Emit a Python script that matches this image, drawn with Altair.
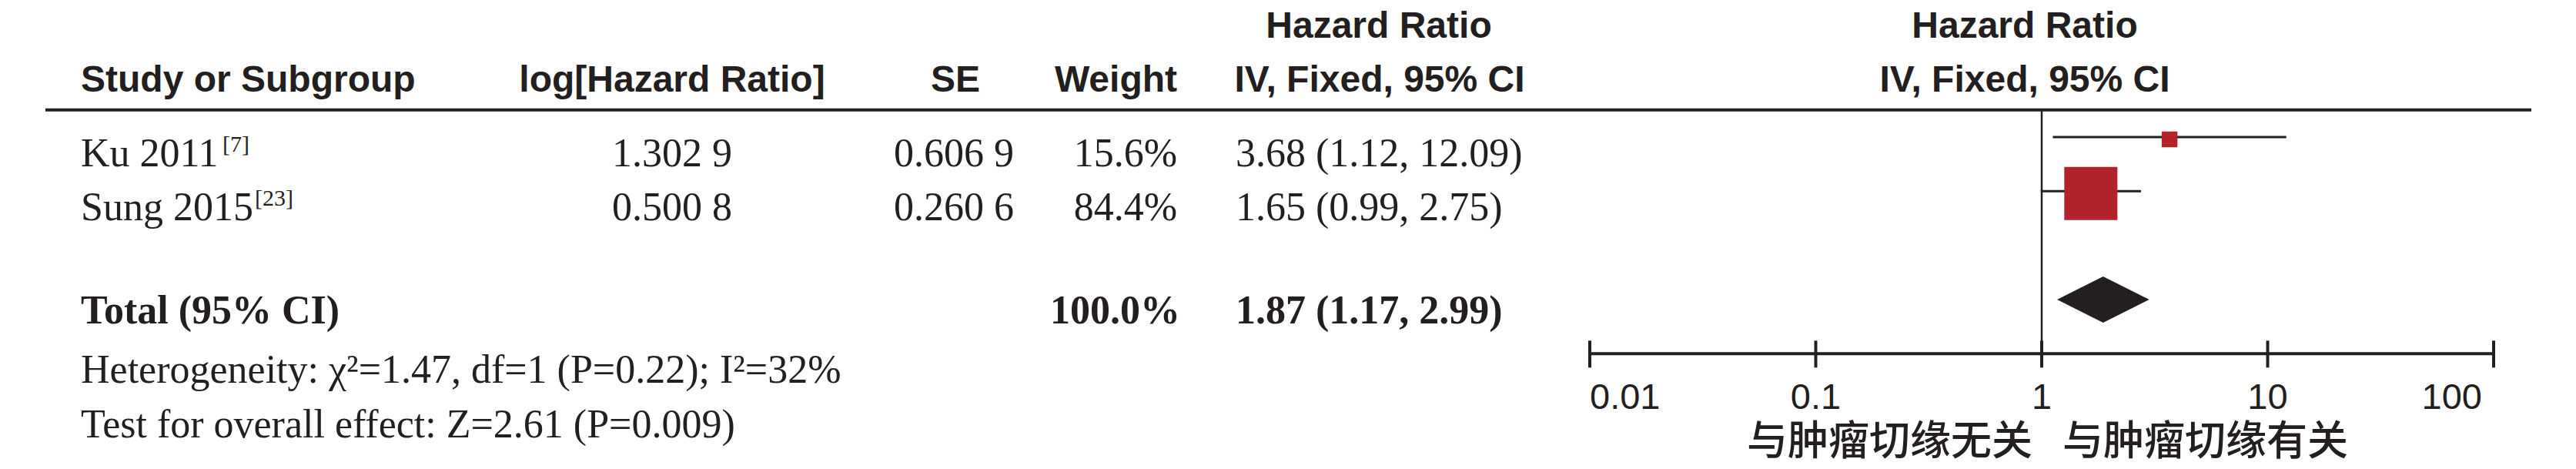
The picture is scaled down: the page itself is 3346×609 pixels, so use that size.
import altair as alt
import pandas as pd

# ---------------- data ----------------
studies = ["Ku 2011", "Sung 2015"]
refs = ["[7]", "[23]"]
log_hr = ["1.302 9", "0.500 8"]
se = ["0.606 9", "0.260 6"]
weights = [15.6, 84.4]
hr = [3.68, 1.65]
ci_low = [1.12, 0.99]
ci_high = [12.09, 2.75]
study_rows = [1, 2]

total_label = "Total (95% CI)"
total_weight = 100.0
total_hr = 1.87
total_low = 1.17
total_high = 2.99
total_row = 4

footnotes = ["Heterogeneity: χ²=1.47, df=1 (P=0.22); I²=32%",
             "Test for overall effect: Z=2.61 (P=0.009)"]
footnote_rows = [5, 6]

tick_values = [0.01, 0.1, 1, 10, 100]
tick_labels = ["0.01", "0.1", "1", "10", "100"]
favours = ["与肿瘤切缘无关", "与肿瘤切缘有关"]

# ---------------- style / layout ----------------
INK = "#231F20"
RED = "#B2222A"
SERIF = "Liberation Serif, Times New Roman, serif"
SANS = "Liberation Sans, Arial, Helvetica, sans-serif"
CJK = "Noto Sans CJK SC"

W, H = 3330, 593
ROW0, ROWH = 99.67, 70.33
HEADER_SLOT, AXIS_SLOT = 0.5, 5
yscale = alt.Scale(domain=[-ROW0 / ROWH, (H - ROW0) / ROWH], range=[0, H], nice=False, zero=False)
xscale = alt.Scale(type="log", domain=[0.01, 100], range=[2057, 3231], nice=False)


def Y(field="slot"):
    return alt.Y(f"{field}:Q", scale=yscale, axis=None)


def X(field):
    return alt.X(f"{field}:Q", scale=xscale, axis=None)


df = pd.DataFrame({
    "name": studies, "ref": refs, "loghr": log_hr, "se": se,
    "weight": weights,
    "wtxt": [f"{w:.1f}%" for w in weights],
    "hrtxt": [f"{h:.2f} ({l:.2f}, {u:.2f})" for h, l, u in zip(hr, ci_low, ci_high)],
    "hr": hr, "lo": ci_low, "hi": ci_high, "slot": study_rows,
})
df_tot = pd.DataFrame({
    "name": [total_label], "wtxt": [f"{total_weight:.1f}%"],
    "hrtxt": [f"{total_hr:.2f} ({total_low:.2f}, {total_high:.2f})"],
    "slot": [total_row],
})
df_foot = pd.DataFrame({"txt": footnotes, "slot": footnote_rows})
df_ticks = pd.DataFrame({"v": tick_values, "lab": tick_labels, "slot": [AXIS_SLOT] * len(tick_values)})

DH = 30 / ROWH  # diamond half height in row units
df_diamond = pd.DataFrame({
    "x": [total_low, total_hr, total_high],
    "top": [total_row, total_row - DH, total_row],
    "bot": [total_row, total_row + DH, total_row],
})

one = lambda s: pd.DataFrame({"slot": [s]})

layers = []

# header rule
layers.append(alt.Chart(one(HEADER_SLOT)).mark_rule(color=INK, strokeWidth=4).encode(
    x=alt.value(51), x2=alt.value(3280), y=Y()))

# vertical line of no effect
layers.append(alt.Chart(pd.DataFrame({"v": [1], "slot": [HEADER_SLOT], "slot2": [AXIS_SLOT]}))
              .mark_rule(color=INK, strokeWidth=2.5).encode(x=X("v"), y=Y(), y2="slot2:Q"))

# CI lines
layers.append(alt.Chart(df).mark_rule(color=INK, strokeWidth=3).encode(x=X("lo"), x2="hi:Q", y=Y()))

# squares
layers.append(alt.Chart(df).mark_square(color=RED, opacity=1, filled=True, yOffset=3).encode(
    x=X("hr"), y=Y(),
    size=alt.Size("weight:Q", scale=alt.Scale(domain=[min(weights), max(weights)], range=[420, 4760]), legend=None)))

# diamond
layers.append(alt.Chart(df_diamond).mark_area(color=INK, opacity=1, interpolate="linear").encode(
    x=X("x"), y=Y("top"), y2="bot:Q"))

# axis line + ticks
layers.append(alt.Chart(pd.DataFrame({"a": [tick_values[0]], "b": [tick_values[-1]], "slot": [AXIS_SLOT]}))
              .mark_rule(color=INK, strokeWidth=4).encode(x=X("a"), x2="b:Q", y=Y()))
layers.append(alt.Chart(df_ticks).mark_rule(color=INK, strokeWidth=4, yOffset=-17, y2Offset=18).encode(
    x=X("v"), y=Y(), y2="slot:Q"))

# tick labels
tick_text = dict(baseline="alphabetic", dy=72, font=SANS, fontSize=47, color=INK)
layers.append(alt.Chart(df_ticks).transform_filter(alt.datum.v == tick_values[0])
              .mark_text(align="left", **tick_text).encode(x=X("v"), y=Y(), text="lab:N"))
layers.append(alt.Chart(df_ticks).transform_filter(alt.datum.v == tick_values[-1])
              .mark_text(align="right", dx=-15, **tick_text).encode(x=X("v"), y=Y(), text="lab:N"))
layers.append(alt.Chart(df_ticks).transform_filter(
    (alt.datum.v > tick_values[0]) & (alt.datum.v < tick_values[-1]))
              .mark_text(align="center", **tick_text).encode(x=X("v"), y=Y(), text="lab:N"))

# favours labels
fav = pd.DataFrame({"v": [1, 1], "t": favours, "slot": [AXIS_SLOT, AXIS_SLOT]})
layers.append(alt.Chart(fav.iloc[[0]]).mark_text(align="right", dx=-12, baseline="alphabetic", dy=132,
                                                  font=CJK, fontSize=53, fontWeight=500, color=INK)
              .encode(x=X("v"), y=Y(), text="t:N"))
layers.append(alt.Chart(fav.iloc[[1]]).mark_text(align="left", dx=27, baseline="alphabetic", dy=132,
                                                  font=CJK, fontSize=53, fontWeight=500, color=INK)
              .encode(x=X("v"), y=Y(), text="t:N"))


# ---- table text ----
def header(text, x, align, dy):
    return alt.Chart(one(HEADER_SLOT)).mark_text(
        text=text, align=align, baseline="alphabetic", dy=dy, font=SANS, fontSize=48,
        fontWeight="bold", color=INK).encode(x=alt.value(x), y=Y())


layers += [
    header("Hazard Ratio", 1783, "center", -94),
    header("Hazard Ratio", 2622, "center", -94),
    header("Study or Subgroup", 97, "left", -24),
    header("log[Hazard Ratio]", 865, "center", -24),
    header("SE", 1233, "center", -24),
    header("Weight", 1521, "right", -24),
    header("IV, Fixed, 95% CI", 1784, "center", -24),
    header("IV, Fixed, 95% CI", 2622, "center", -24),
]


def col(data, field, x, align, dy=38, bold=False, size=52):
    return alt.Chart(data).mark_text(
        align=align, baseline="alphabetic", dy=dy, font=SERIF, fontSize=size,
        fontWeight="bold" if bold else "normal", color=INK).encode(
        x=alt.value(x), y=Y(), text=f"{field}:N")


layers += [
    col(df, "name", 97, "left"),
    col(df, "loghr", 943, "right"),
    col(df, "se", 1309, "right"),
    col(df, "wtxt", 1521, "right"),
    col(df, "hrtxt", 1597, "left"),
    col(df_tot, "name", 97, "left", dy=31, bold=True),
    col(df_tot, "wtxt", 1525, "right", dy=31, bold=True),
    col(df_tot, "hrtxt", 1597, "left", dy=31, bold=True),
]
layers.append(alt.Chart(df_foot).mark_text(align="left", baseline="alphabetic", dy=38, font=SERIF,
                                           fontSize=52, color=INK)
              .encode(x=alt.value(97), y=Y(), text="txt:N"))

# superscript references
SUP_X = [281, 323]
for i, x in enumerate(SUP_X):
    layers.append(alt.Chart(df.iloc[[i]]).mark_text(align="left", baseline="alphabetic", dy=19, font=SERIF,
                                                     fontSize=30, color=INK)
                  .encode(x=alt.value(x), y=Y(), text="ref:N"))

chart = alt.layer(*layers).properties(
    width=W, height=H, padding=0, autosize=alt.AutoSizeParams(type="none"),
    background="white",
).configure_view(stroke=None)

chart.save("out.html", embed_options={"renderer": "svg", "actions": False})
